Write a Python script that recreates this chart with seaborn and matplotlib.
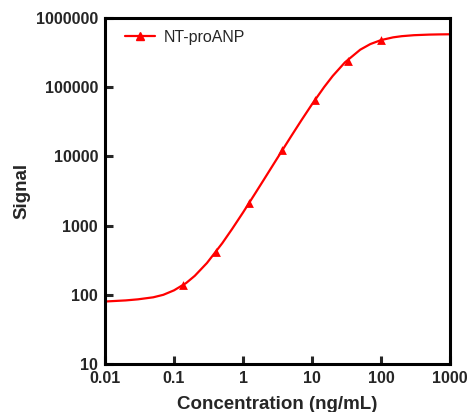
import matplotlib
matplotlib.use('Agg')
import matplotlib.pyplot as plt
import seaborn as sns
import pandas as pd
from matplotlib.lines import Line2D

# measured standards (triangles)
conc = [0.137, 0.41, 1.23, 3.7, 11.1, 33.3, 100]
signal = [140, 415, 2150, 12200, 66000, 238000, 480000]

# fitted curve
curve_x = [0.01, 0.02, 0.03, 0.05, 0.07, 0.1, 0.15, 0.2, 0.3, 0.5, 0.7, 1, 1.5, 2, 3,
           5, 7, 10, 15, 20, 30, 50, 70, 100, 150, 200, 300, 500, 700, 1000]
curve_y = [80, 83, 86, 92, 100, 116, 148, 188, 288, 556, 903, 1546, 2916, 4596, 8766,
           19640, 33130, 56700, 100500, 145700, 228500, 348500, 420000, 479600, 525400,
           546200, 564300, 575700, 579600, 581900]

pts = pd.DataFrame({'conc': conc, 'signal': signal})
fit = pd.DataFrame({'conc': curve_x, 'signal': curve_y})

sns.set_style('ticks')
plt.rcParams['font.family'] = ['Liberation Sans', 'DejaVu Sans']

fig = plt.figure(figsize=(4.69, 4.12), dpi=100)
ax = fig.add_axes([0.2239, 0.1165, 0.7356, 0.8398])

sns.lineplot(data=fit, x='conc', y='signal', color='red', linewidth=1.6, ax=ax, legend=False)
sns.scatterplot(data=pts, x='conc', y='signal', color='red', marker='^', s=40,
                linewidth=0, ax=ax, legend=False, zorder=3)

ax.set_xscale('log')
ax.set_yscale('log')
ax.set_xlim(0.01, 1000)
ax.set_ylim(10, 1000000)
ax.set_xticks([0.01, 0.1, 1, 10, 100, 1000])
ax.set_xticklabels(['0.01', '0.1', '1', '10', '100', '1000'])
ax.set_yticks([10, 100, 1000, 10000, 100000, 1000000])
ax.set_yticklabels(['10', '100', '1000', '10000', '100000', '1000000'])
ax.minorticks_off()

for side in ['left', 'bottom', 'top', 'right']:
    ax.spines[side].set_visible(True)
    ax.spines[side].set_linewidth(2.2)
    ax.spines[side].set_color('black')

ax.tick_params(axis='both', which='major', direction='in', length=6, width=2.2,
               labelsize=11.5, pad=5)
for lab in ax.get_xticklabels() + ax.get_yticklabels():
    lab.set_fontweight('bold')

ax.set_xlabel('Concentration (ng/mL)', fontsize=13.5, fontweight='bold', labelpad=7)
ax.set_ylabel('Signal', fontsize=13.5, fontweight='bold', labelpad=4)

handle = Line2D([], [], color='red', linewidth=1.6, marker='^', markersize=6)
ax.legend([handle], ['NT-proANP'], loc='upper left', frameon=False, fontsize=11.5,
          handlelength=1.9, handletextpad=0.55, numpoints=1, borderaxespad=0,
          bbox_to_anchor=(0.039, 0.985))

fig.savefig('out.png', dpi=100)
